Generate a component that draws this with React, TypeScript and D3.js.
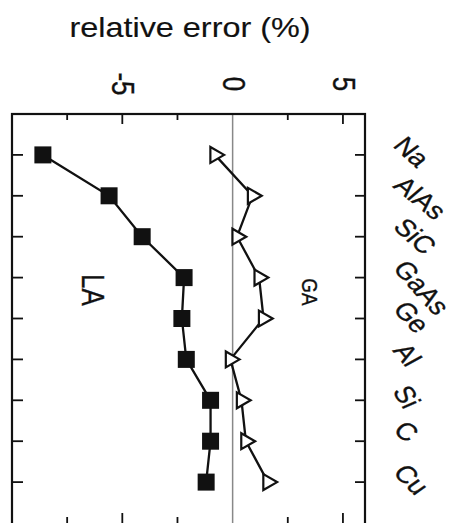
import React, { useEffect, useRef } from 'react';
import * as d3 from 'd3';

// materials, top to bottom
const materials = ['Na', 'AlAs', 'SiC', 'GaAs', 'Ge', 'Al', 'Si', 'C', 'Cu'];
// relative error (%)
const laValues = [-8.6, -5.6, -4.1, -2.2, -2.3, -2.1, -1.0, -1.0, -1.2];
const gaValues = [-0.8, 0.9, 0.2, 1.2, 1.4, -0.1, 0.4, 0.6, 1.6];
const majorTicks = [-5, 0, 5];
const minorTicks = [-7.5, -2.5, 2.5];

const W = 463;
const H = 523;
// per-label tilt of the scanned material names
const labelAngles = [48, 44, 47, 53, 52, 56, 62, 40, 50];
// the scan is a little wider than tall
const stretch = 'scale(1.2,1)';

export default function App() {
  const svgRef = useRef<SVGSVGElement>(null);

  useEffect(() => {
    if (!svgRef.current) return;
    const svg = d3.select(svgRef.current);
    svg.selectAll('*').remove();

    const box = { left: 12, right: 365, top: 114, bottom: 523 };

    const x = d3.scaleLinear().domain([-10, 6]).range([box.left, box.right]);
    const y = d3.scalePoint<string>().domain(materials).range([box.top, box.bottom]).padding(1);

    const font = 'Liberation Sans, Arial, Helvetica, sans-serif';
    const ink = '#111';

    svg.append('rect').attr('width', W).attr('height', H).attr('fill', '#fff');

    // title
    svg.append('text')
      .attr('transform', `translate(190,37) ${stretch}`)
      .attr('text-anchor', 'middle')
      .attr('font-family', font)
      .attr('font-size', 27)
      .attr('fill', ink)
      .attr('stroke', ink)
      .attr('stroke-width', 0.15)
      .text('relative error (%)');

    // tick labels, turned a quarter
    svg.selectAll('.tl')
      .data(majorTicks)
      .enter().append('text')
      .attr('transform', d => `translate(${x(d) + 1},84) ${stretch} rotate(90)`)
      .attr('text-anchor', 'middle')
      .attr('dy', '0.35em')
      .attr('font-family', font)
      .attr('font-size', 26)
      .attr('fill', ink)
      .attr('stroke', ink)
      .attr('stroke-width', 0.3)
      .text(d => String(d));

    // zero line
    svg.append('line')
      .attr('x1', x(0)).attr('x2', x(0))
      .attr('y1', box.top).attr('y2', box.bottom)
      .attr('stroke', '#888')
      .attr('stroke-width', 1.5);

    // frame
    svg.append('rect')
      .attr('x', box.left).attr('y', box.top)
      .attr('width', box.right - box.left)
      .attr('height', box.bottom - box.top + 4)
      .attr('fill', 'none')
      .attr('stroke', ink)
      .attr('stroke-width', 2.2);

    // ticks along top and bottom, pointing inward
    const ticks = [...majorTicks.map(v => ({ v, len: 10 })), ...minorTicks.map(v => ({ v, len: 6 }))];
    ticks.filter(t => t.v !== 0).forEach(t => {
      svg.append('line')
        .attr('x1', x(t.v)).attr('x2', x(t.v))
        .attr('y1', box.top).attr('y2', box.top + t.len)
        .attr('stroke', ink).attr('stroke-width', 1.8);
      svg.append('line')
        .attr('x1', x(t.v)).attr('x2', x(t.v))
        .attr('y1', box.bottom).attr('y2', box.bottom - t.len)
        .attr('stroke', ink).attr('stroke-width', 1.8);
    });

    // ticks along left and right
    materials.forEach(m => {
      svg.append('line')
        .attr('x1', box.left).attr('x2', box.left + 11)
        .attr('y1', y(m)!).attr('y2', y(m)!)
        .attr('stroke', ink).attr('stroke-width', 1.8);
      svg.append('line')
        .attr('x1', box.right).attr('x2', box.right - 10)
        .attr('y1', y(m)!).attr('y2', y(m)!)
        .attr('stroke', ink).attr('stroke-width', 1.8);
    });

    const la = materials.map((m, i) => ({ m, v: laValues[i] }));
    const ga = materials.map((m, i) => ({ m, v: gaValues[i] }));

    const line = d3.line<{ m: string; v: number }>()
      .x(d => x(d.v))
      .y(d => y(d.m)!);

    [la, ga].forEach(series => {
      svg.append('path')
        .datum(series)
        .attr('fill', 'none')
        .attr('stroke', ink)
        .attr('stroke-width', 2.3)
        .attr('d', line);
    });

    // LA squares
    svg.selectAll('.sq')
      .data(la)
      .enter().append('rect')
      .attr('x', d => x(d.v) - 8.5)
      .attr('y', d => y(d.m)! - 8.5)
      .attr('width', 17)
      .attr('height', 17)
      .attr('fill', ink);

    // GA open triangles, apex to the right
    const tri = d3.symbol().type(d3.symbolTriangle).size(110);
    svg.selectAll('.tri')
      .data(ga)
      .enter().append('path')
      .attr('d', tri)
      .attr('transform', d => `translate(${x(d.v)},${y(d.m)}) rotate(90)`)
      .attr('fill', '#fff')
      .attr('stroke', ink)
      .attr('stroke-width', 2.2);

    // series names
    svg.append('text')
      .attr('transform', `translate(93,290) ${stretch} rotate(90)`)
      .attr('text-anchor', 'middle')
      .attr('dy', '0.35em')
      .attr('font-family', font)
      .attr('font-size', 26)
      .attr('fill', ink)
      .attr('stroke', ink)
      .attr('stroke-width', 0.3)
      .text('LA');

    svg.append('text')
      .attr('transform', `translate(310,292) ${stretch} rotate(90)`)
      .attr('text-anchor', 'middle')
      .attr('dy', '0.35em')
      .attr('font-family', font)
      .attr('font-size', 19)
      .attr('fill', ink)
      .attr('stroke', ink)
      .attr('stroke-width', 0.3)
      .text('GA');

    // material names on the right
    svg.selectAll('.ml')
      .data(materials)
      .enter().append('text')
      .attr('transform', (d, i) => `translate(392,${y(d)! - 9}) ${stretch} rotate(${labelAngles[i]})`)
      .attr('font-family', font)
      .attr('font-size', 24)
      .attr('fill', ink)
      .attr('stroke', ink)
      .attr('stroke-width', 0.3)
      .text(d => d);
  }, []);

  return (
    <svg
      ref={svgRef}
      width={W}
      height={H}
      viewBox={`0 0 ${W} ${H}`}
      style={{ position: 'absolute', left: 0, top: 0, background: '#fff' }}
    />
  );
}
